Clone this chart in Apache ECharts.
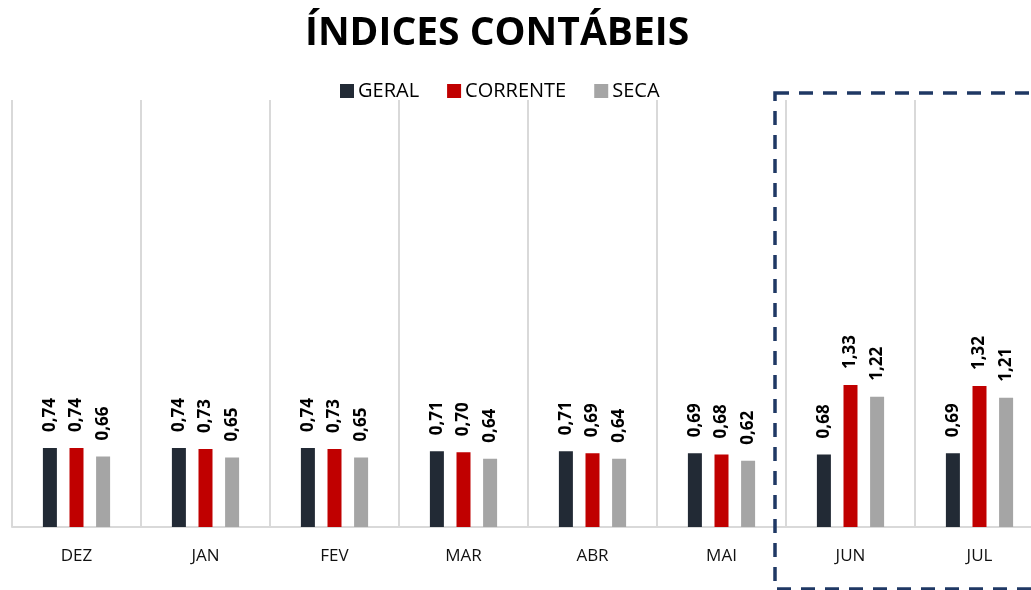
<!DOCTYPE html>
<html>
<head>
<meta charset="utf-8">
<script src="https://cdn.jsdelivr.net/npm/echarts@6/dist/echarts.min.js"></script>
<style>
  html, body { margin: 0; padding: 0; background: #fff; overflow: hidden; }
  #chart { width: 1060px; height: 590px; }
</style>
</head>
<body>
<div id="chart"></div>
<script>
var months = ['DEZ', 'JAN', 'FEV', 'MAR', 'ABR', 'MAI', 'JUN', 'JUL'];
var geral = [0.74, 0.74, 0.74, 0.71, 0.71, 0.69, 0.68, 0.69];
var corrente = [0.74, 0.73, 0.73, 0.70, 0.69, 0.68, 1.33, 1.32];
var seca = [0.66, 0.65, 0.65, 0.64, 0.64, 0.62, 1.22, 1.21];

var font = "'Open Sans', 'Noto Sans', sans-serif";

var labelStyle = {
    show: true,
    position: 'top',
    rotate: 90,
    align: 'left',
    verticalAlign: 'middle',
    distance: 16,
    color: '#000',
    fontFamily: font,
    fontWeight: 'bold',
    fontSize: 17,
    formatter: function(p) {
        return p.value.toFixed(2).replace('.', ',');
    }
};

function makeSeries(name, data, color) {
    return {
        name: name,
        type: 'bar',
        data: data,
        barWidth: 14,
        barGap: '90%',
        itemStyle: { color: color },
        label: labelStyle,
        animation: false
    };
}

var chart = echarts.init(document.getElementById('chart'));

chart.setOption({
    animation: false,
    title: {
        text: 'ÍNDICES CONTÁBEIS',
        left: 300,
        top: 9,
        textStyle: {
            fontFamily: font,
            fontWeight: 'bold',
            fontSize: 39,
            color: '#000'
        }
    },
    legend: {
        left: 335,
        top: 76,
        itemWidth: 14,
        itemHeight: 14,
        itemGap: 28,
        icon: 'rect',
        textStyle: {
            fontFamily: font,
            fontSize: 20,
            color: '#000',
            padding: [0, 0, 0, -1]
        },
        data: ['GERAL', 'CORRENTE', 'SECA']
    },
    grid: {
        left: 12,
        top: 100,
        width: 1032,
        height: 427,
        containLabel: false
    },
    xAxis: {
        type: 'category',
        data: months,
        axisLine: { show: true, lineStyle: { color: '#d9d9d9', width: 2 } },
        axisTick: { show: false },
        splitLine: { show: true, lineStyle: { color: '#d9d9d9', width: 2 } },
        axisLabel: {
            margin: 21,
            fontFamily: font,
            fontSize: 17,
            color: '#111'
        }
    },
    yAxis: {
        type: 'value',
        min: 0,
        max: 4,
        show: false,
        splitLine: { show: false }
    },
    graphic: [{
        type: 'rect',
        shape: { x: 775, y: 93, width: 300, height: 496 },
        style: {
            fill: null,
            stroke: '#1f3864',
            lineWidth: 3.5,
            lineDash: [14, 10]
        },
        z: 100
    }],
    series: [
        makeSeries('GERAL', geral, '#222a35'),
        makeSeries('CORRENTE', corrente, '#c00000'),
        makeSeries('SECA', seca, '#a5a5a5')
    ]
});
</script>
</body>
</html>
